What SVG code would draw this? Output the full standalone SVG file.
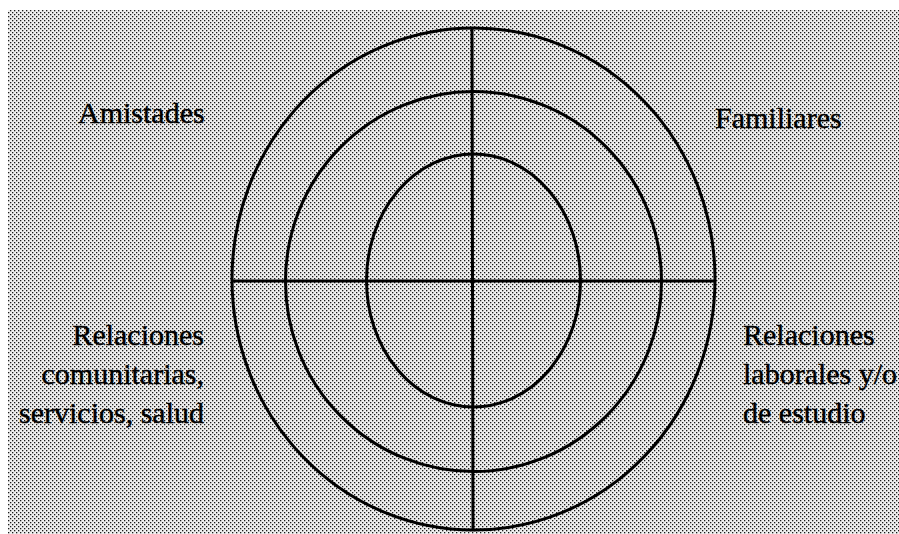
<svg xmlns="http://www.w3.org/2000/svg" width="899" height="534" viewBox="0 0 899 534">
  <defs>
    <pattern id="dither" width="4" height="4" patternUnits="userSpaceOnUse">
      <rect width="4" height="4" fill="#f0f0f0"/>
      <rect x="0" y="0" width="1.3" height="1.3" fill="#1a1a1a"/>
      <rect x="2" y="2" width="1.3" height="1.3" fill="#1a1a1a"/>
    </pattern>
  </defs>
  <style>
    .ring { fill: none; stroke: #000; stroke-width: 3; }
    .axis { stroke: #000; stroke-width: 3; fill: none; }
    .lbl { font-family: "Liberation Serif", "Times New Roman", serif; font-size: 30px; fill: #000; stroke: #000; stroke-width: 0.4; }
  </style>
  <rect width="899" height="534" fill="#fff"/>
  <rect x="8" y="10" width="891" height="524" fill="url(#dither)"/>

  <g id="outer-ring"><ellipse class="ring" cx="473.5" cy="279" rx="241.5" ry="251"/></g>
  <g id="middle-ring"><ellipse class="ring" cx="473.5" cy="281.5" rx="188" ry="190"/></g>
  <g id="inner-ring"><ellipse class="ring" cx="473.5" cy="280.5" rx="107" ry="126.5"/></g>

  <g id="connectors">
    <line class="axis" x1="232" y1="281" x2="715" y2="281"/>
    <line class="axis" x1="472" y1="28" x2="473" y2="530"/>
  </g>

  <g id="amistades"><text class="lbl" x="78" y="123">Amistades</text></g>
  <g id="familiares"><text class="lbl" x="715" y="128">Familiares</text></g>
  <g id="comunitarias">
    <text class="lbl" text-anchor="end" x="204" y="345">Relaciones</text>
    <text class="lbl" text-anchor="end" x="204" y="384">comunitarias,</text>
    <text class="lbl" text-anchor="end" x="204" y="423">servicios, salud</text>
  </g>
  <g id="laborales">
    <text class="lbl" x="743" y="345">Relaciones</text>
    <text class="lbl" x="743" y="384">laborales y/o</text>
    <text class="lbl" x="743" y="423">de estudio</text>
  </g>
</svg>
